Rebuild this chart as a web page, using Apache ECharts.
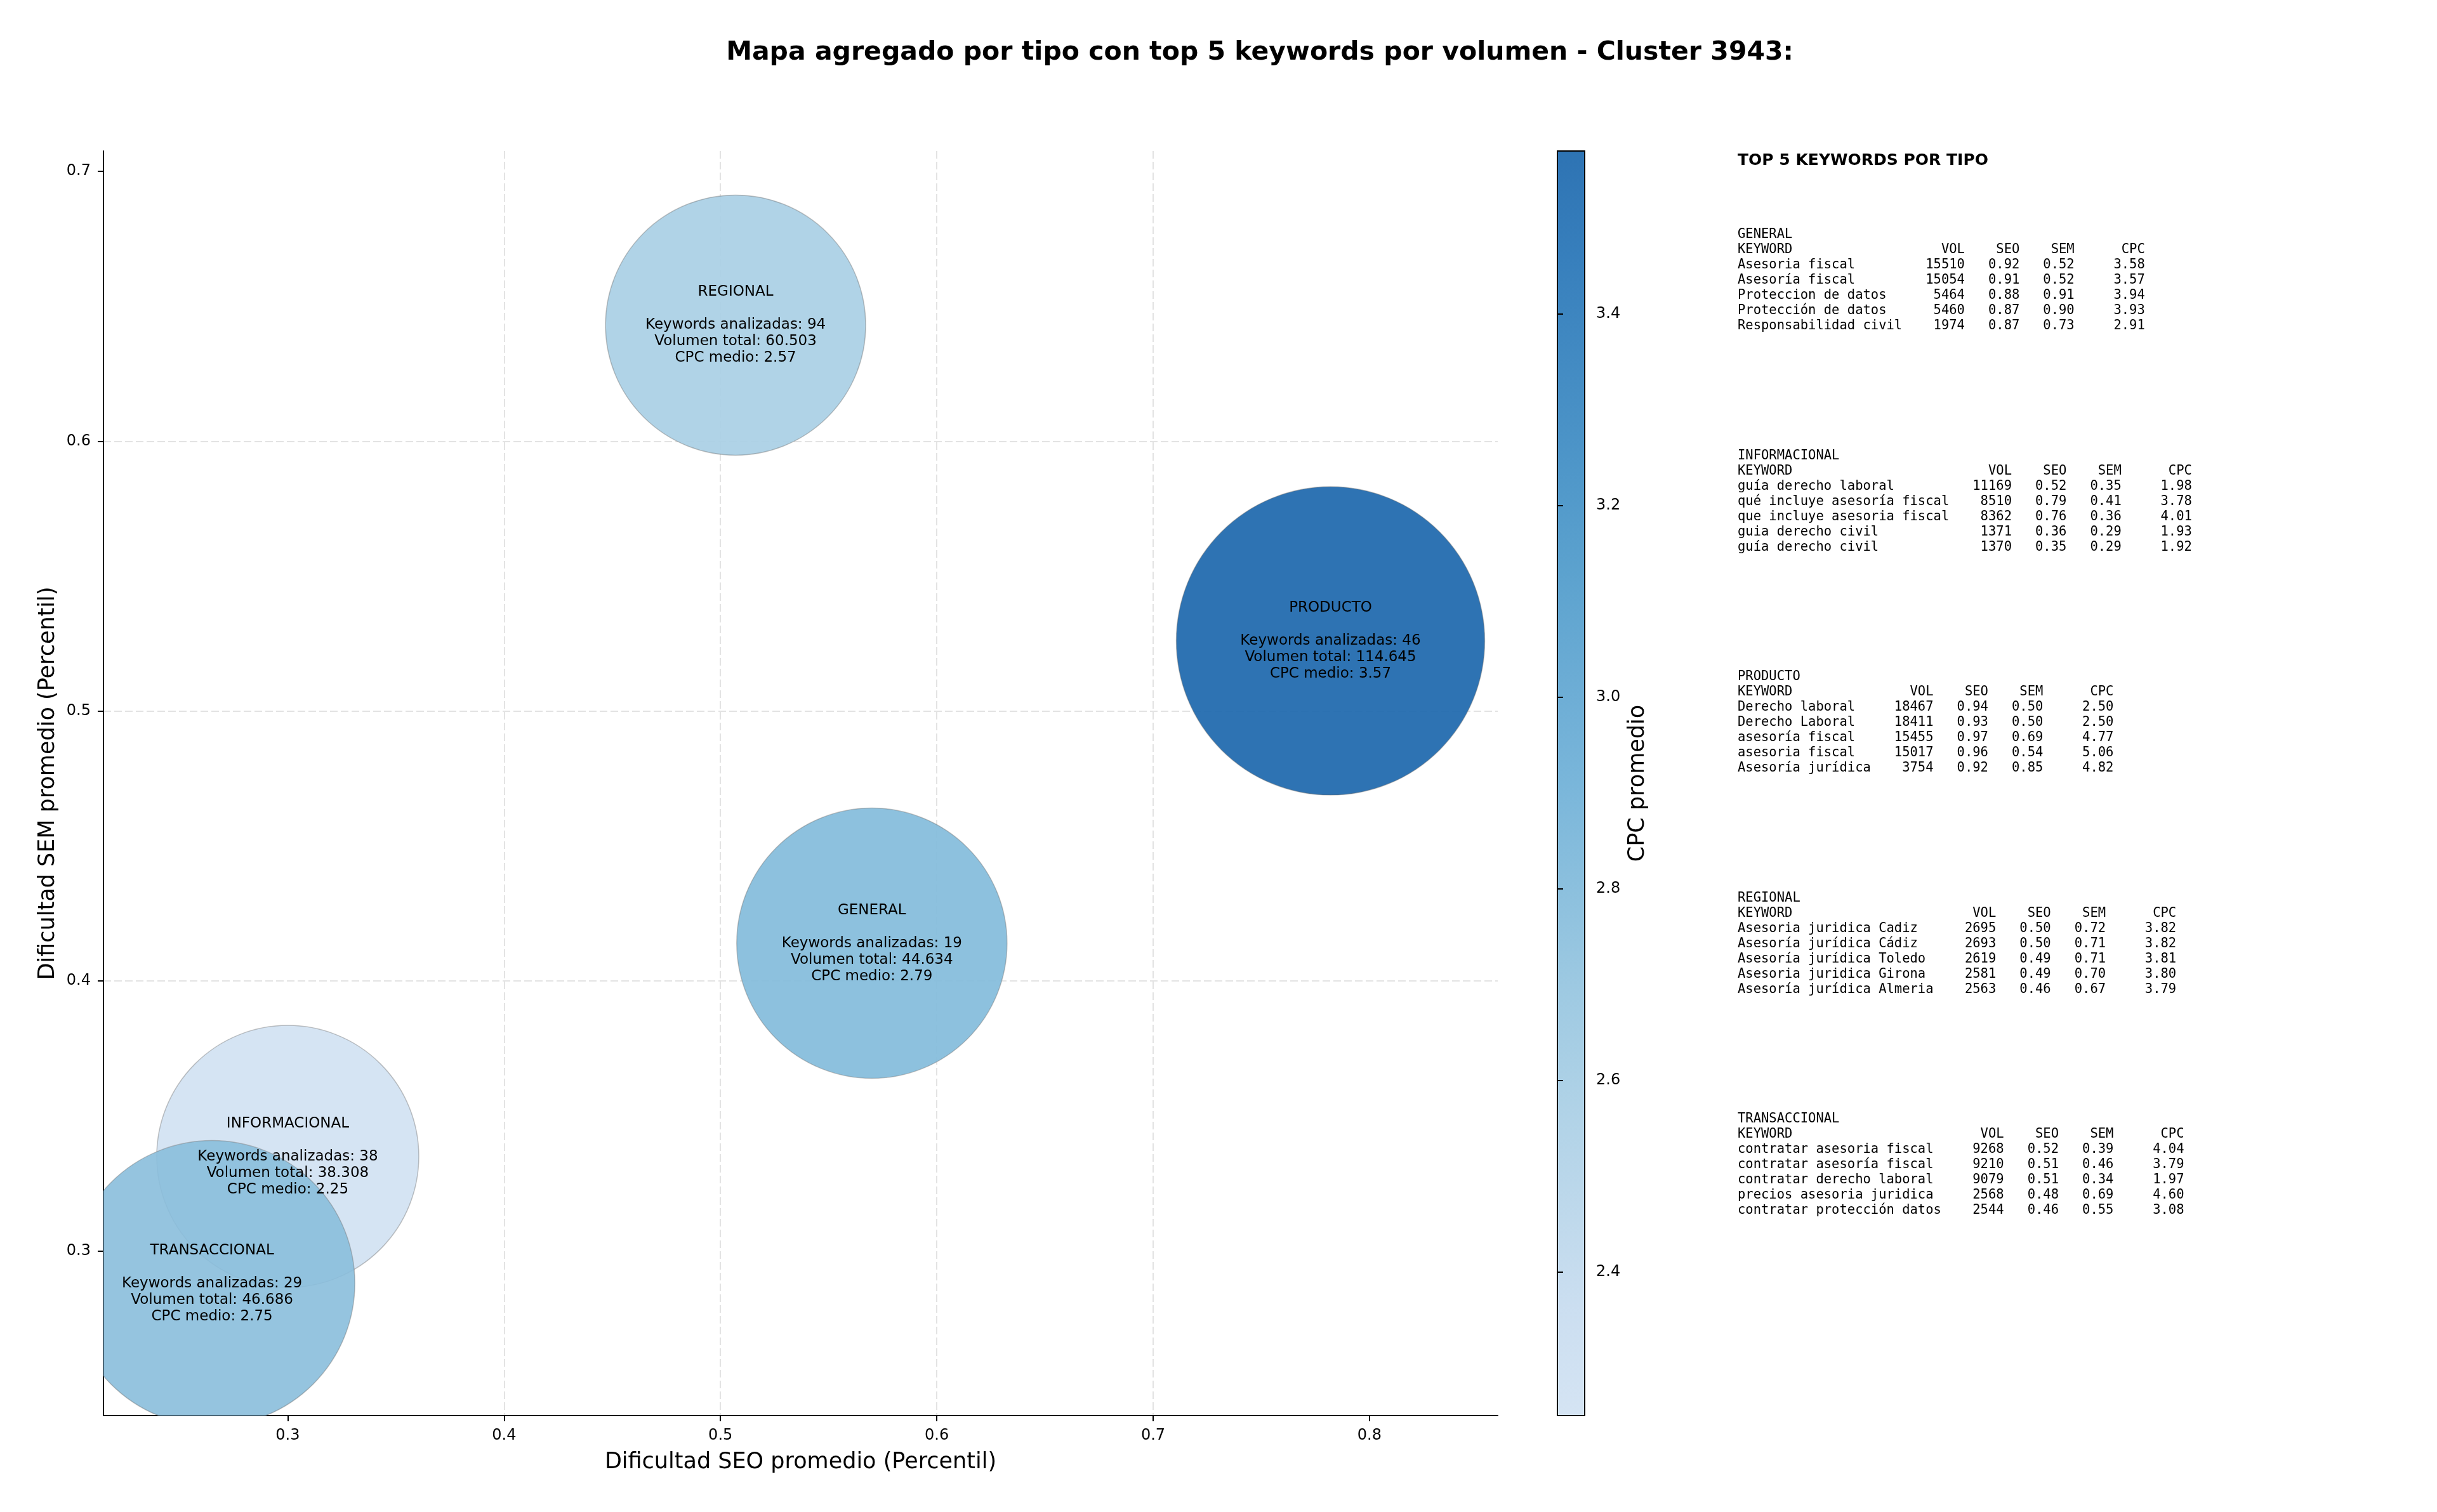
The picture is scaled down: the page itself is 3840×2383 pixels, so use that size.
<!DOCTYPE html>
<html>
<head>
<meta charset="utf-8">
<title>Mapa agregado por tipo - Cluster 3943</title>
<script src="https://cdn.jsdelivr.net/npm/echarts@6/dist/echarts.min.js"></script>
<style>
  html, body { margin: 0; padding: 0; background: #fff; }
  #chart { width: 3840px; height: 2383px; }
</style>
</head>
<body>
<div id="chart"></div>
<script>
// ---- data ----
const tipos = ['GENERAL', 'INFORMACIONAL', 'PRODUCTO', 'REGIONAL', 'TRANSACCIONAL']
const seoPromedio = [0.570, 0.300, 0.782, 0.507, 0.265]
const semPromedio = [0.414, 0.335, 0.526, 0.643, 0.288]
const cpcPromedio = [2.79, 2.25, 3.57, 2.57, 2.75]
const keywordsAnalizadas = [19, 38, 46, 94, 29]
const volumenTotal = [44634, 38308, 114645, 60503, 46686]

// top 5 keywords per tipo: [keyword, vol, seo, sem, cpc]
const topGeneral = [
  ['Asesoria fiscal', 15510, 0.92, 0.52, 3.58],
  ['Asesoría fiscal', 15054, 0.91, 0.52, 3.57],
  ['Proteccion de datos', 5464, 0.88, 0.91, 3.94],
  ['Protección de datos', 5460, 0.87, 0.90, 3.93],
  ['Responsabilidad civil', 1974, 0.87, 0.73, 2.91]
]
const topInformacional = [
  ['guía derecho laboral', 11169, 0.52, 0.35, 1.98],
  ['qué incluye asesoría fiscal', 8510, 0.79, 0.41, 3.78],
  ['que incluye asesoria fiscal', 8362, 0.76, 0.36, 4.01],
  ['guia derecho civil', 1371, 0.36, 0.29, 1.93],
  ['guía derecho civil', 1370, 0.35, 0.29, 1.92]
]
const topProducto = [
  ['Derecho laboral', 18467, 0.94, 0.50, 2.50],
  ['Derecho Laboral', 18411, 0.93, 0.50, 2.50],
  ['asesoría fiscal', 15455, 0.97, 0.69, 4.77],
  ['asesoria fiscal', 15017, 0.96, 0.54, 5.06],
  ['Asesoría jurídica', 3754, 0.92, 0.85, 4.82]
]
const topRegional = [
  ['Asesoria juridica Cadiz', 2695, 0.50, 0.72, 3.82],
  ['Asesoría jurídica Cádiz', 2693, 0.50, 0.71, 3.82],
  ['Asesoría jurídica Toledo', 2619, 0.49, 0.71, 3.81],
  ['Asesoria juridica Girona', 2581, 0.49, 0.70, 3.80],
  ['Asesoría jurídica Almeria', 2563, 0.46, 0.67, 3.79]
]
const topTransaccional = [
  ['contratar asesoria fiscal', 9268, 0.52, 0.39, 4.04],
  ['contratar asesoría fiscal', 9210, 0.51, 0.46, 3.79],
  ['contratar derecho laboral', 9079, 0.51, 0.34, 1.97],
  ['precios asesoria juridica', 2568, 0.48, 0.69, 4.60],
  ['contratar protección datos', 2544, 0.46, 0.55, 3.08]
]
const topPorTipo = [topGeneral, topInformacional, topProducto, topRegional, topTransaccional]

const xTicks = [0.3, 0.4, 0.5, 0.6, 0.7, 0.8]
const yTicks = [0.3, 0.4, 0.5, 0.6, 0.7]
const cbTicks = [2.4, 2.6, 2.8, 3.0, 3.2, 3.4]

// ---- styles ----
const FONT = 'DejaVu Sans'
const MONO = 'DejaVu Sans Mono'
const bubbleDiameter = [426, 413, 486, 410, 450]
const BLUES = ['#f7fbff', '#deebf7', '#c6dbef', '#9ecae1', '#6baed6', '#4292c6', '#2171b5', '#08519c', '#08306b']

function hexRgb(h) {
  return [1, 3, 5].map(i => parseInt(h.slice(i, i + 2), 16))
}
function blues(t) {
  const p = t * (BLUES.length - 1)
  const i = Math.min(Math.floor(p), BLUES.length - 2)
  const f = p - i
  const a = hexRgb(BLUES[i]), b = hexRgb(BLUES[i + 1])
  return a.map((v, k) => Math.round(v + (b[k] - v) * f))
}
// colormap: Blues truncated to 0.2 .. 0.8
const ramp = Array.from({ length: 13 }, (_, k) => blues(0.2 + 0.6 * k / 12))
const cpcMin = Math.min(...cpcPromedio)
const cpcMax = Math.max(...cpcPromedio)

function fmtMiles(n) {
  return String(n).replace(/\B(?=(\d{3})+(?!\d))/g, '.')
}

function tablaTexto(nombre, filas) {
  const w = Math.max(...filas.map(f => f[0].length))
  const lines = [nombre]
  lines.push('KEYWORD'.padEnd(w) + 'VOL'.padStart(8) + 'SEO'.padStart(7) + 'SEM'.padStart(7) + 'CPC'.padStart(9))
  for (const f of filas) {
    lines.push(f[0].padEnd(w) + String(f[1]).padStart(8) + f[2].toFixed(2).padStart(7) +
      f[3].toFixed(2).padStart(7) + f[4].toFixed(2).padStart(9))
  }
  return lines.join('\n')
}

function bubbleLabel(i) {
  return tipos[i] + '\n\nKeywords analizadas: ' + keywordsAnalizadas[i] +
    '\nVolumen total: ' + fmtMiles(volumenTotal[i]) +
    '\nCPC medio: ' + cpcPromedio[i].toFixed(2)
}

const gridLine = { show: true, showMinLine: false, showMaxLine: false, lineStyle: { color: '#e3e3e3', width: 2, type: [12, 5] } }
const blackLine = { color: '#000', width: 2 }

const graphics = [
  {
    type: 'text', x: 1985, y: 83, silent: true,
    style: {
      text: 'Mapa agregado por tipo con top 5 keywords por volumen - Cluster 3943:',
      fontFamily: FONT, fontSize: 41, fontWeight: 'bold', fill: '#000',
      align: 'center', verticalAlign: 'middle'
    }
  },
  {
    type: 'text', x: 2738, y: 253, silent: true,
    style: {
      text: 'TOP 5 KEYWORDS POR TIPO', fontFamily: FONT, fontSize: 25, fontWeight: 'bold',
      fill: '#000', align: 'left', verticalAlign: 'middle'
    }
  }
]
tipos.forEach((t, i) => {
  graphics.push({
    type: 'text', x: 2738, y: 358 + i * 348.5, silent: true,
    style: {
      text: tablaTexto(t, topPorTipo[i]), fontFamily: MONO, fontSize: 20.5, lineHeight: 24,
      fill: '#000', align: 'left', verticalAlign: 'top'
    }
  })
})

function renderBubble(params, api) {
  const i = params.dataIndex
  const pt = api.coord([api.value(0), api.value(1)])
  return {
    type: 'group',
    children: [
      {
        type: 'circle', z2: 0,
        shape: { cx: pt[0], cy: pt[1], r: bubbleDiameter[i] / 2 },
        style: { fill: api.visual('color'), opacity: 0.9, stroke: 'rgba(110,110,110,0.45)', lineWidth: 1.5 }
      },
      {
        type: 'text', z2: 10, x: pt[0], y: pt[1],
        style: {
          text: bubbleLabel(i), fill: '#000', fontFamily: FONT, fontSize: 23, lineHeight: 26,
          align: 'center', verticalAlign: 'middle'
        }
      }
    ]
  }
}

const chart = echarts.init(document.getElementById('chart'))
chart.setOption({
  animation: false,
  backgroundColor: '#fff',
  textStyle: { fontFamily: FONT },
  grid: [
    { left: 163, top: 238, width: 2197, height: 1993, outerBoundsMode: 'none' },
    {
      left: 2454, top: 238, width: 43, height: 1993, outerBoundsMode: 'none',
      show: true, borderColor: '#000', borderWidth: 2,
      backgroundColor: {
        type: 'linear', x: 0, y: 1, x2: 0, y2: 0,
        colorStops: ramp.map((c, k) => ({ offset: k / (ramp.length - 1), color: `rgba(${c[0]},${c[1]},${c[2]},0.9)` }))
      }
    }
  ],
  xAxis: [
    {
      type: 'value', gridIndex: 0, min: 0.2148, max: 0.8593,
      name: 'Dificultad SEO promedio (Percentil)', nameLocation: 'middle', nameGap: 56,
      nameTextStyle: { fontSize: 35, color: '#000', fontFamily: FONT },
      axisLine: { show: true, onZero: false, lineStyle: blackLine },
      axisTick: { show: true, length: 9, lineStyle: blackLine, customValues: xTicks },
      axisLabel: { fontSize: 24, color: '#000', margin: 20, customValues: xTicks, formatter: v => v.toFixed(1) },
      splitLine: gridLine
    },
    { type: 'value', gridIndex: 1, show: false, min: 0, max: 1 }
  ],
  yAxis: [
    {
      type: 'value', gridIndex: 0, min: 0.239, max: 0.7075,
      name: 'Dificultad SEM promedio (Percentil)', nameLocation: 'middle', nameGap: 70, nameRotate: 90,
      nameTextStyle: { fontSize: 35, color: '#000', fontFamily: FONT },
      axisLine: { show: true, onZero: false, lineStyle: blackLine },
      axisTick: { show: true, length: 9, lineStyle: blackLine, customValues: yTicks },
      axisLabel: { fontSize: 24, color: '#000', margin: 20, customValues: yTicks, formatter: v => v.toFixed(1) },
      splitLine: gridLine
    },
    {
      type: 'value', gridIndex: 1, position: 'right', min: cpcMin, max: cpcMax,
      name: 'CPC promedio', nameLocation: 'middle', nameGap: 66, nameRotate: 90,
      nameTextStyle: { fontSize: 35, color: '#000', fontFamily: FONT },
      axisLine: { show: false },
      axisTick: { show: true, length: 9, lineStyle: blackLine, customValues: cbTicks },
      axisLabel: { fontSize: 24, color: '#000', margin: 18, customValues: cbTicks, formatter: v => v.toFixed(1) },
      splitLine: { show: false }
    }
  ],
  visualMap: {
    type: 'continuous', show: false, seriesIndex: 0, dimension: 2,
    min: cpcMin, max: cpcMax,
    inRange: { color: ramp.map(c => `rgb(${c[0]},${c[1]},${c[2]})`) }
  },
  series: [
    {
      type: 'custom', xAxisIndex: 0, yAxisIndex: 0, clip: true,
      data: tipos.map((t, i) => [seoPromedio[i], semPromedio[i], cpcPromedio[i]]),
      renderItem: renderBubble,
      silent: true
    }
  ],
  graphic: graphics
})
</script>
</body>
</html>
